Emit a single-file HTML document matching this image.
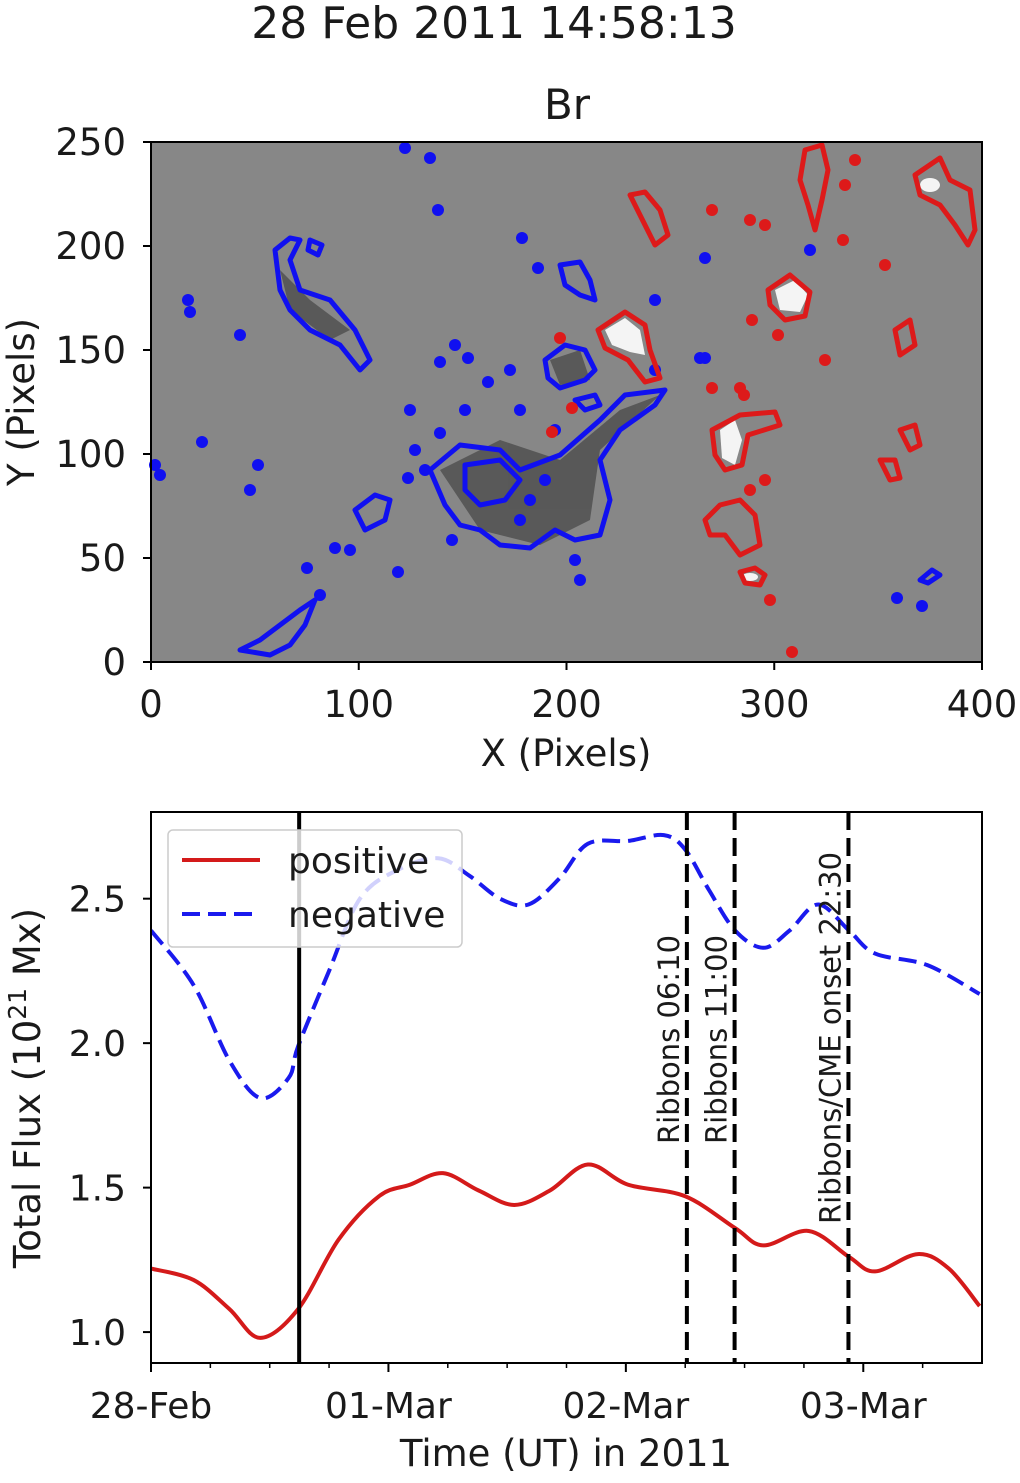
<!DOCTYPE html>
<html><head><meta charset="utf-8"><style>
body{margin:0;background:#fff;width:1020px;height:1478px;overflow:hidden}
svg text{font-family:"DejaVu Sans","Liberation Sans",sans-serif;fill:#1a1a1a}
</style></head><body>
<svg width="1020" height="1478" xmlns="http://www.w3.org/2000/svg">
<text x="494" y="38" font-size="44" text-anchor="middle">28 Feb 2011 14:58:13</text>
<text x="567" y="119" font-size="42" text-anchor="middle">Br</text>
<g id="map">
<rect x="151" y="142" width="831" height="520" fill="#878787"/>
<g fill="#3a3a3a" opacity="0.6">
<path d="M440 470 L500 440 L560 460 L620 410 L660 395 L600 450 L590 520 L540 545 L480 530 Z"/>
<path d="M280 270 L310 300 L350 330 L330 340 L290 310 Z"/>
<path d="M550 360 L580 350 L590 380 L560 385 Z"/>
</g>
<g fill="#f4f4f4">
<path d="M605 330 L625 318 L640 330 L645 355 L630 352 L612 345 Z"/>
<path d="M775 290 L795 280 L808 295 L800 312 L780 310 Z"/>
<path d="M720 430 L735 420 L742 440 L735 465 L722 458 Z"/>
<ellipse cx="930" cy="185" rx="10" ry="7"/>
<ellipse cx="750" cy="577" rx="8" ry="4"/>
</g>
<g fill="none" stroke="#1010f0" stroke-width="5" stroke-linejoin="round">
<path d="M430 470 L460 445 L500 450 L520 470 L560 455 L600 420 L625 395 L665 390 L655 405 L620 430 L600 460 L610 500 L600 535 L575 540 L555 530 L530 548 L500 545 L480 530 L460 525 L445 505 Z"/>
<path d="M465 465 L500 460 L520 480 L505 500 L480 505 L465 490 Z"/>
<path d="M545 360 L565 345 L585 350 L595 370 L585 380 L560 388 L548 378 Z"/>
<path d="M575 400 L595 395 L600 405 L585 410 Z"/>
<path d="M275 250 L290 238 L300 240 L290 260 L300 290 L330 300 L355 330 L370 360 L360 370 L340 345 L310 330 L290 310 L280 290 Z"/>
<path d="M310 240 L322 245 L318 255 L308 250 Z"/>
<path d="M560 265 L580 262 L590 280 L595 300 L580 295 L565 285 Z"/>
<path d="M355 510 L375 495 L390 500 L385 520 L365 530 Z"/>
<path d="M240 650 L260 640 L280 625 L300 610 L315 600 L305 625 L290 645 L270 655 Z"/>
<path d="M940 575 L932 570 L920 580 L928 583 Z"/>
</g>
<g fill="#1010f0" id="bdots"></g>
<g fill="none" stroke="#dd1a1a" stroke-width="5" stroke-linejoin="round">
<path d="M598 330 L625 312 L645 325 L650 350 L660 378 L645 382 L628 360 L605 348 Z"/>
<path d="M768 290 L790 275 L810 292 L805 316 L785 320 L770 305 Z"/>
<path d="M712 430 L740 415 L775 412 L780 425 L748 435 L742 465 L725 470 L715 455 Z"/>
<path d="M705 520 L720 505 L740 500 L755 515 L760 545 L740 555 L725 535 L710 535 Z"/>
<path d="M740 572 L755 568 L765 575 L760 585 L745 583 Z"/>
<path d="M630 195 L645 192 L660 210 L668 235 L655 245 L645 225 Z"/>
<path d="M805 150 L822 145 L828 170 L822 200 L815 230 L808 205 L800 180 Z"/>
<path d="M915 175 L940 158 L950 180 L970 190 L975 230 L968 245 L955 225 L940 205 L920 195 Z"/>
<path d="M895 330 L910 320 L915 345 L900 355 Z"/>
<path d="M900 430 L915 425 L920 445 L910 450 Z"/>
<path d="M880 460 L895 460 L900 478 L890 480 Z"/>
</g>
<g fill="#dd1a1a" id="rdots"></g>
<rect x="151" y="142" width="831" height="520" fill="none" stroke="#000" stroke-width="2"/>
</g>
<g id="mapaxes"></g>
<text x="566" y="766" font-size="37" text-anchor="middle">X (Pixels)</text>
<text transform="translate(34,402) rotate(-90)" font-size="37" text-anchor="middle">Y (Pixels)</text>

<g id="chart"></g>
<text x="566" y="1466" font-size="37" text-anchor="middle">Time (UT) in 2011</text>
<text transform="translate(40,1088) rotate(-90)" font-size="37" text-anchor="middle">Total Flux (10<tspan font-size="25" dy="-14">21</tspan><tspan dy="14"> Mx)</tspan></text>
</svg>
<script>
const NS="http://www.w3.org/2000/svg";
function mk(t,a,p){const e=document.createElementNS(NS,t);for(const k in a)e.setAttribute(k,a[k]);p.appendChild(e);return e;}
const bd=[[405,148],[430,158],[438,210],[522,238],[538,268],[188,300],[190,312],[240,335],[455,345],[468,358],[440,362],[488,382],[510,370],[520,410],[410,410],[465,410],[555,430],[655,300],[705,258],[705,358],[810,250],[700,358],[452,540],[575,560],[408,478],[440,433],[155,465],[202,442],[258,465],[250,490],[335,548],[350,550],[307,568],[320,595],[398,572],[897,598],[922,606],[655,370],[415,450],[425,470],[530,500],[545,480],[520,520],[580,580],[160,475]];
const rd=[[560,338],[572,408],[552,432],[712,210],[750,220],[765,225],[855,160],[845,185],[885,265],[752,320],[778,335],[825,360],[792,652],[712,388],[740,388],[744,395],[843,240],[770,600],[765,480],[750,490]];
const bg=document.getElementById('bdots'),rg=document.getElementById('rdots');
bd.forEach(d=>{const c=mk('circle',{cx:d[0],cy:d[1],r:6},bg);

});
rd.forEach(d=>{const c=mk('circle',{cx:d[0],cy:d[1],r:6},rg);

});
const ma=document.getElementById('mapaxes');
const mapXTicks=[0,100,200,300,400], mapYTicks=[0,50,100,150,200,250];
mapXTicks.forEach(v=>{const x=151+v*831/400;mk('line',{x1:x,x2:x,y1:662,y2:670,stroke:'#000','stroke-width':2},ma);
const t=mk('text',{x:x,y:717,'font-size':37,'text-anchor':'middle'},ma);t.textContent=v;

});
mapYTicks.forEach(v=>{const y=662-v*520/250;mk('line',{x1:143,x2:151,y1:y,y2:y,stroke:'#000','stroke-width':2},ma);
const t=mk('text',{x:126,y:y+13,'font-size':37,'text-anchor':'end'},ma);t.textContent=v;

});

const tickLabels=["28-Feb","01-Mar","02-Mar","03-Mar"];
const yTicks=[1.0,1.5,2.0,2.5];
const negT=[0,0.18,0.33,0.46,0.58,0.62,0.75,0.88,1.04,1.21,1.34,1.47,1.59,1.72,1.84,2.01,2.16,2.25,2.35,2.46,2.58,2.69,2.81,2.94,3.05,3.27,3.49];
const negV=[2.39,2.20,1.94,1.81,1.88,1.99,2.25,2.50,2.60,2.64,2.58,2.50,2.48,2.57,2.69,2.70,2.72,2.67,2.53,2.39,2.33,2.39,2.48,2.39,2.31,2.27,2.17];
const posT=[0,0.18,0.33,0.46,0.62,0.79,0.96,1.09,1.23,1.38,1.53,1.68,1.84,2.01,2.25,2.46,2.58,2.77,2.94,3.05,3.23,3.36,3.49];
const posV=[1.22,1.18,1.08,0.98,1.08,1.32,1.47,1.51,1.55,1.49,1.44,1.49,1.58,1.51,1.47,1.36,1.30,1.35,1.26,1.21,1.27,1.22,1.09];
const eventT=[2.257,2.458,2.9375];
const eventLabels=["Ribbons 06:10","Ribbons 11:00","Ribbons/CME onset 22:30"];
const nowT=0.624;
const L=151,R=982,T=812,B=1363,xmin=0,xmax=3.5,ymin=0.893,ymax=2.80;
const sx=t=>L+(t-xmin)/(xmax-xmin)*(R-L);
const sy=v=>B-(v-ymin)/(ymax-ymin)*(B-T);
const ch=document.getElementById('chart');
function smooth(ts,vs){const p=ts.map((t,i)=>[sx(t),sy(vs[i])]);let d='M'+p[0][0]+' '+p[0][1];
for(let i=0;i<p.length-1;i++){const p0=p[i-1]||p[i],p1=p[i],p2=p[i+1],p3=p[i+2]||p2;
d+=' C'+(p1[0]+(p2[0]-p0[0])/6)+' '+(p1[1]+(p2[1]-p0[1])/6)+' '+(p2[0]-(p3[0]-p1[0])/6)+' '+(p2[1]-(p3[1]-p1[1])/6)+' '+p2[0]+' '+p2[1];}return d;}
const clip=mk('clipPath',{id:'cp'},ch);mk('rect',{x:L,y:T,width:R-L,height:B-T},clip);
const neg=mk('path',{d:smooth(negT,negV),fill:'none',stroke:'#1a1aee','stroke-width':4,'stroke-dasharray':'18 8','clip-path':'url(#cp)'},ch);


const pos=mk('path',{d:smooth(posT,posV),fill:'none',stroke:'#d41a1a',"stroke-width":4,'clip-path':'url(#cp)'},ch);


const nl=mk('line',{x1:sx(nowT),x2:sx(nowT),y1:T,y2:B,stroke:'#000','stroke-width':4},ch);


eventT.forEach((t,i)=>{const l=mk('line',{x1:sx(t),x2:sx(t),y1:T,y2:B,stroke:'#000','stroke-width':4,'stroke-dasharray':'18 8'},ch);


const tx=mk('text',{transform:'translate('+(sx(t)-8)+','+(i==2?1224:1144)+') rotate(-90)','font-size':29},ch);tx.textContent=eventLabels[i];

});
const lg=mk('g',{},ch);


mk('rect',{x:168,y:830,width:294,height:117,rx:5,fill:'#fff','fill-opacity':0.8,stroke:'#ccc','stroke-width':1.5},lg);
mk('line',{x1:182,x2:260,y1:860,y2:860,stroke:'#d41a1a','stroke-width':4},lg);
mk('line',{x1:182,x2:260,y1:914,y2:914,stroke:'#1a1aee','stroke-width':4,'stroke-dasharray':'18 8'},lg);
let t1=mk('text',{x:288,y:873,'font-size':36},lg);t1.textContent='positive';
let t2=mk('text',{x:288,y:927,'font-size':36},lg);t2.textContent='negative';
mk('rect',{x:L,y:T,width:R-L,height:B-T,fill:'none',stroke:'#000','stroke-width':2},ch);
tickLabels.forEach((s,i)=>{const x=sx(i);mk('line',{x1:x,x2:x,y1:B,y2:B+9,stroke:'#000','stroke-width':2},ch);
const t=mk('text',{x:x,y:1418,'font-size':36,'text-anchor':'middle'},ch);t.textContent=s;

});
for(let h=0.25;h<3.5;h+=0.25){if(h%1)mk('line',{x1:sx(h),x2:sx(h),y1:B,y2:B+5,stroke:'#000','stroke-width':1.5},ch);}
yTicks.forEach(v=>{const y=sy(v);mk('line',{x1:L-8,x2:L,y1:y,y2:y,stroke:'#000','stroke-width':2},ch);
const t=mk('text',{x:126,y:y+13,'font-size':36,'text-anchor':'end'},ch);t.textContent=v.toFixed(1);

});
</script>
</body></html>
